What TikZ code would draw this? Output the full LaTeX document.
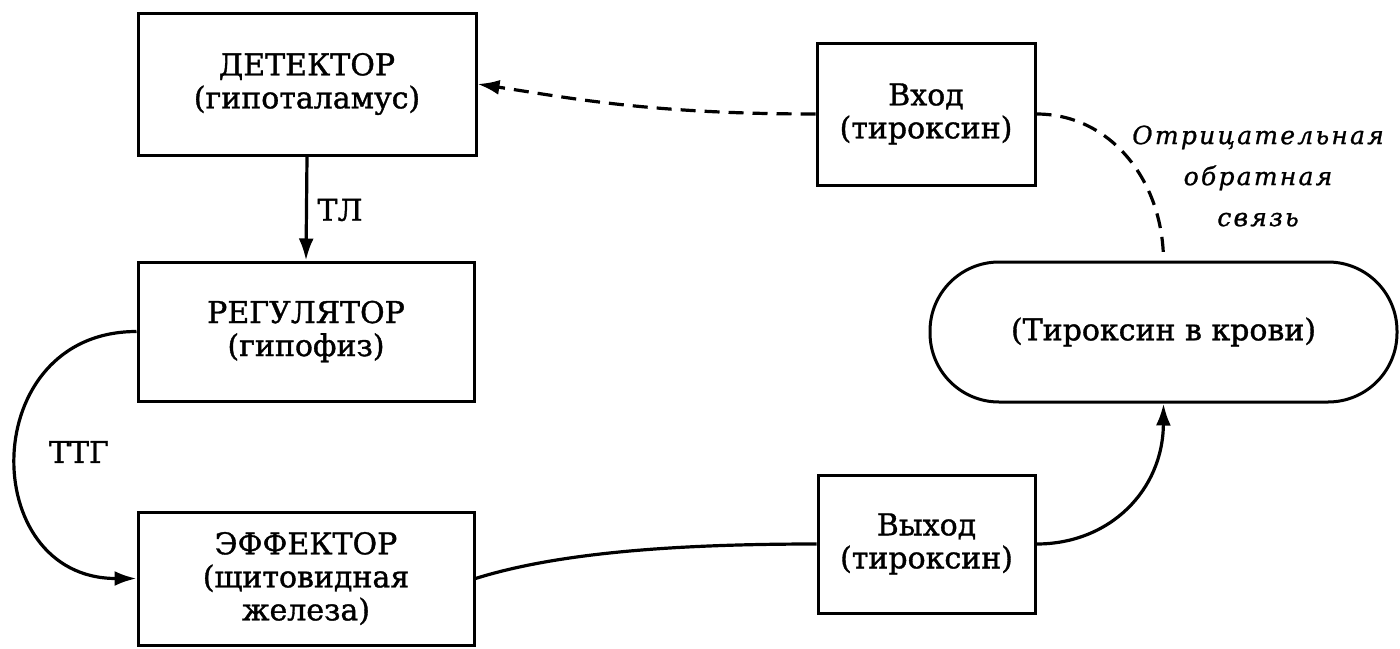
\documentclass[tikz,border=0pt]{standalone}
\usepackage{fontspec}
\setmainfont{DejaVu Serif}[FakeBold=1.2]
\newfontfamily\labfont{DejaVu Serif}[LetterSpace=9,FakeBold=1]
\usetikzlibrary{arrows.meta}
\begin{document}
\begin{tikzpicture}[x=1pt,y=-1pt,
  box/.style={draw,line width=3pt,rectangle,inner sep=0pt,align=center,
    font=\fontsize{30}{33}\selectfont},
  pill/.style={box,rounded corners=69pt},
  conn/.style={line width=3.2pt},
  tip/.style={-{Latex[length=22pt,width=15pt]}},
  arr/.style={conn,tip},
  dsh/.style={conn,dash pattern=on 15pt off 9pt},
  lbl/.style={font=\fontsize{30}{33}\selectfont,inner sep=0pt}]
\useasboundingbox (0,0) rectangle (1400,648);
\node[box,minimum width=338pt,minimum height=142pt] (det) at (307,84) {ДЕТЕКТОР\\(гипоталамус)};
\node[box,minimum width=336pt,minimum height=139pt] (reg) at (306,331.5) {РЕГУЛЯТОР\\(гипофиз)};
\node[box,minimum width=336pt,minimum height=133pt] (eff) at (306,578.5) {ЭФФЕКТОР\\(щитовидная\\железа)};
\node[box,minimum width=218pt,minimum height=142pt] (vh) at (926,114) {Вход\\(тироксин)};
\node[box,minimum width=217pt,minimum height=138pt] (vyh) at (926.5,544) {Выход\\(тироксин)};
\node[pill,minimum width=467pt,minimum height=140pt] (blood) at (1163.5,332) {(Тироксин в крови)};
\node[lbl] (tl) at (340,210) {ТЛ};
\node[lbl] (ttg) at (79,452) {ТТГ};
\node[inner sep=0pt,align=center,font=\labfont\itshape\fontsize{25}{41}\selectfont] (neg) at (1258,176) {Отрицательная\\обратная\\связь};
\draw[arr] (det.south) -- (reg.north);
\draw[arr] (reg.west) .. controls +(-160,0) and +(-160,0) .. (eff.west);
\draw[conn] (eff.east) .. controls (560,552) and (680,544) .. (vyh.west);
\draw[arr] (vyh.east) .. controls (1110,544) and (1163,490) .. (blood.south);
\draw[dsh,tip] (vh.west) .. controls (650,114) and (570,98) .. (det.east);
\draw[dsh] (vh.east) .. controls (1110,114) and (1163,180) .. (blood.north);
\end{tikzpicture}
\end{document}
